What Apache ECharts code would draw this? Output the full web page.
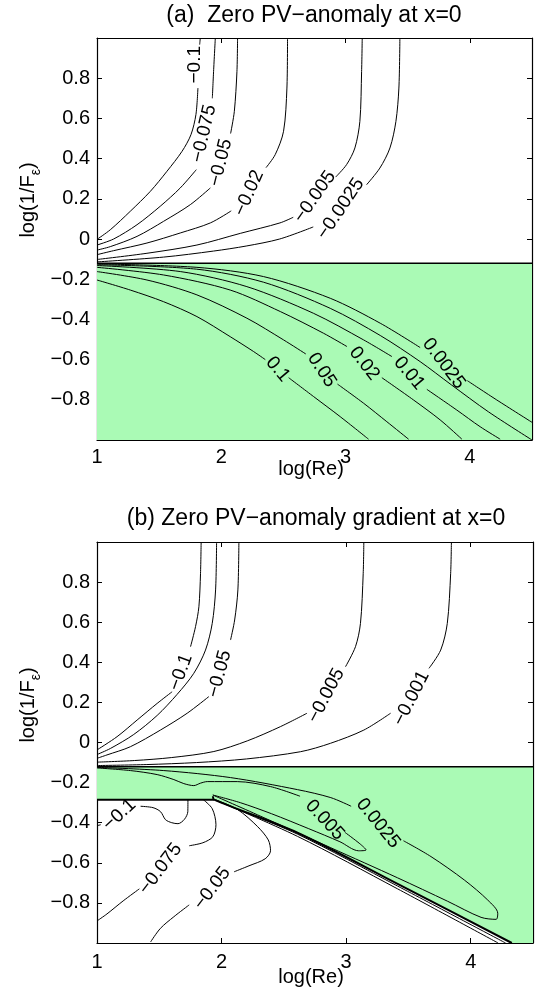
<!DOCTYPE html>
<html>
<head>
<meta charset="utf-8">
<title>Zero PV-anomaly</title>
<script src="https://cdn.jsdelivr.net/npm/echarts@6/dist/echarts.min.js"></script>
<style>
  html, body { margin: 0; padding: 0; background: #fff; }
  #chart { width: 544px; height: 991px; }
</style>
</head>
<body>
<div id="chart"></div>
<script>
// axes: log(Re) on x, log(1/F_eps) on y
var xRange = [1, 4.5];
var yRange = [-1, 1];
var xStep = 1;
var yStep = 0.2;
var GREEN = '#aafab5';

// ---------- panel (a): zero PV-anomaly ----------
// green region (positive values)
var a_green = [[1, -0.121], [4.5, -0.121], [4.5, -1], [1, -1]];
var a_zero = [[1, -0.121], [4.5, -0.121]];

// negative contours (null = gap for the inline label)
var a_m0100 = [[1.831, 1.0], [1.826, 0.967], null, [1.812, 0.751], [1.796, 0.619], [1.756, 0.519], [1.684, 0.436], [1.563, 0.337], [1.429, 0.237], [1.268, 0.138], [1.107, 0.046], [1.0, -0.002]];
var a_m0075 = [[1.952, 1.0], [1.938, 0.834], [1.928, 0.700], null, [1.799, 0.345], [1.670, 0.254], [1.509, 0.163], [1.322, 0.071], [1.134, 0.0], [1.0, -0.030]];
var a_m0050 = [[2.131, 1.0], [2.126, 0.834], [2.105, 0.635], [2.075, 0.525], null, [1.912, 0.254], [1.751, 0.171], [1.536, 0.088], [1.322, 0.013], [1.107, -0.038], [1.0, -0.055]];
var a_m0020 = [[2.533, 1.0], [2.528, 0.751], [2.501, 0.536], [2.434, 0.420], [2.36, 0.355], null, [2.08, 0.140], [1.912, 0.080], [1.670, 0.030], [1.402, -0.020], [1.134, -0.058], [1.0, -0.078]];
var a_m0005 = [[3.134, 1.0], [3.129, 0.834], [3.115, 0.585], [3.075, 0.453], [3.008, 0.370], [2.920, 0.308], null, [2.579, 0.108], [2.472, 0.080], [2.153, 0.028], [1.804, -0.030], [1.402, -0.071], [1.0, -0.102]];
var a_m0025 = [[3.437, 1.0], [3.429, 0.751], [3.405, 0.585], [3.357, 0.453], [3.276, 0.353], [3.169, 0.270], null, [2.740, 0.060], [2.470, 0.0], [2.200, -0.035], [1.938, -0.060], [1.536, -0.090], [1.0, -0.114]];

// positive contours
var a_p0100 = [[1.0, -0.204], [1.268, -0.254], [1.536, -0.312], [1.804, -0.386], [2.072, -0.486], [2.260, -0.560], [2.354, -0.600], null, [2.542, -0.690], [2.743, -0.784], [2.957, -0.884], [3.185, -0.996]];
var a_p0050 = [[1.0, -0.162], [1.402, -0.204], [1.804, -0.278], [2.206, -0.394], [2.501, -0.502], [2.680, -0.572], null, [2.935, -0.722], [3.145, -0.817], [3.332, -0.909], [3.507, -0.996]];
var a_p0020 = [[1.0, -0.141], [1.536, -0.179], [2.072, -0.254], [2.475, -0.361], [2.823, -0.469], [3.011, -0.535], null, [3.292, -0.690], [3.547, -0.801], [3.761, -0.900], [3.936, -0.996]];
var a_p0010 = [[1.0, -0.132], [1.670, -0.162], [2.206, -0.237], [2.743, -0.370], [3.145, -0.502], [3.373, -0.585], null, [3.654, -0.748], [3.895, -0.851], [4.083, -0.934], [4.244, -0.996]];
var a_p0005 = [[1.0, -0.128], [1.8, -0.150], [2.34, -0.215], [2.877, -0.345], [3.279, -0.480], [3.6, -0.610], [3.85, -0.725], [4.15, -0.860], [4.5, -1.0]];
var a_p0025 = [[1.0, -0.124], [1.804, -0.141], [2.340, -0.187], [2.877, -0.295], [3.279, -0.419], [3.600, -0.540], null, [3.980, -0.705], [4.217, -0.801], [4.5, -0.912]];

var a_lines = [a_m0100, a_m0075, a_m0050, a_m0020, a_m0005, a_m0025,
               a_p0100, a_p0050, a_p0020, a_p0010, a_p0005, a_p0025];

var a_labels = [
  [1.790, 0.867, '\u22120.1'], [1.860, 0.524, '\u22120.075'], [1.995, 0.380, '\u22120.05'],
  [2.222, 0.228, '\u22120.02'], [2.753, 0.210, '\u22120.005'], [2.960, 0.150, '\u22120.0025'],
  [2.455, -0.648, '0.1'], [2.808, -0.652, '0.05'], [3.150, -0.620, '0.02'],
  [3.512, -0.668, '0.01'], [3.790, -0.620, '0.0025']
];
var a_angles = [90, 77, 76, 66, 55, 56, -50, -57, -52, -50, -53];

// ---------- panel (b): zero PV-anomaly gradient ----------
var b_green = [[1, -0.121], [4.5, -0.121], [4.5, -1], [4.33, -1], [3.413, -0.705], [2.609, -0.450], [1.94, -0.285], [1, -0.285]];
var b_zero = [[1, -0.121], [4.5, -0.121]];
var b_floor = [[1, -0.285], [1.94, -0.285]];
var b_diag0 = [[1.93, -0.268], [1.94, -0.285], [2.609, -0.450], [3.413, -0.705], [4.33, -1.0]];
var b_diag1 = [[1.95, -0.288], [2.609, -0.457], [3.413, -0.716], [4.28, -1.0]];
var b_diag2 = [[1.97, -0.292], [2.609, -0.468], [3.413, -0.730], [4.22, -1.0]];

var b_m0100 = [[1.836, 1.0], [1.831, 0.844], [1.818, 0.677], [1.791, 0.578], [1.751, 0.478], null, [1.603, 0.253], [1.483, 0.195], [1.322, 0.112], [1.161, 0.029], [1.0, -0.037]];
var b_m0075 = [[1.960, 1.0], [1.952, 0.761], [1.925, 0.594], [1.871, 0.461], [1.777, 0.345], [1.643, 0.240], [1.483, 0.135], [1.295, 0.040], [1.107, -0.030], [1.0, -0.060]];
var b_m0050 = [[2.139, 1.0], [2.131, 0.761], [2.105, 0.611], [2.072, 0.511], null, [1.898, 0.229], [1.724, 0.146], [1.509, 0.062], [1.268, -0.021], [1.080, -0.062], [1.0, -0.079]];
var b_m0005 = [[3.142, 1.0], [3.137, 0.844], [3.115, 0.594], [3.075, 0.478], [2.995, 0.378], null, [2.686, 0.146], [2.472, 0.079], [2.206, 0.008], [1.938, -0.045], [1.6, -0.075], [1.3, -0.090], [1.0, -0.098]];
var b_m0001 = [[3.845, 1.0], [3.839, 0.844], [3.812, 0.594], [3.759, 0.461], [3.665, 0.370], null, [3.357, 0.146], [3.142, 0.062], [2.874, -0.004], [2.633, -0.046], [2.2, -0.082], [1.8, -0.100], [1.4, -0.110], [1.0, -0.115]];

var b_p0005 = [[1.0, -0.127], [1.268, -0.140], [1.483, -0.160], [1.617, -0.185], [1.697, -0.205], [1.777, -0.215], [1.83, -0.203], [1.885, -0.195], [2.126, -0.195], [2.394, -0.220], [2.630, -0.268], null, [2.990, -0.448], [3.11, -0.505], [3.16, -0.536], [3.10, -0.540], [2.95, -0.495], [2.7, -0.430], [2.4, -0.355], [2.15, -0.300], [1.93, -0.262]];
var b_p0025 = [[1.0, -0.124], [1.536, -0.140], [2.072, -0.175], [2.609, -0.235], [2.877, -0.275], [3.04, -0.318], null, [3.460, -0.490], [3.681, -0.569], [3.949, -0.686], [4.137, -0.786], [4.217, -0.852], [4.204, -0.882], [4.083, -0.872], [3.815, -0.792], [3.413, -0.675], [2.877, -0.525], [2.340, -0.375], [1.93, -0.262]];

var b_m0100_lo = [[1.73, -0.285], [1.729, -0.345], [1.702, -0.383], [1.65, -0.405], [1.60, -0.400], [1.55, -0.385], [1.51, -0.345], [1.45, -0.325], [1.35, -0.318], null, [1.03, -0.410], [1.0, -0.415]];
var b_m0075_lo = [[1.853, -0.285], [1.925, -0.330], [1.955, -0.410], [1.93, -0.470], [1.85, -0.500], [1.74, -0.515], null, [1.34, -0.730], [1.21, -0.790], [1.08, -0.855], [1.0, -0.890]];
var b_m0050_lo = [[1.95, -0.285], [2.13, -0.335], [2.29, -0.420], [2.375, -0.486], [2.393, -0.540], [2.35, -0.580], [2.22, -0.615], [2.10, -0.645], null, [1.74, -0.810], [1.617, -0.869], [1.509, -0.927], [1.43, -0.995]];

var b_lines = [b_m0100, b_m0075, b_m0050, b_m0005, b_m0001, b_p0005, b_p0025,
               b_m0100_lo, b_m0075_lo, b_m0050_lo, b_diag1, b_diag2];

var b_labels = [
  [1.672, 0.350, '\u22120.1'], [1.984, 0.342, '\u22120.05'], [2.839, 0.234, '\u22120.005'],
  [3.523, 0.220, '\u22120.001'], [2.828, -0.387, '0.005'], [3.257, -0.403, '0.0025'],
  [1.180, -0.360, '\u22120.1'], [1.510, -0.630, '\u22120.075'], [1.925, -0.728, '\u22120.05']
];
var b_angles = [70, 75, 62, 63, -47, -51, 43, 53, 53];

var FONT = 'Liberation Sans, Arial, Helvetica, sans-serif';

function lineSeries(data, gi, w) {
  return {
    type: 'line', xAxisIndex: gi * 2, yAxisIndex: gi * 2, data: data,
    symbol: 'none', smooth: 0.3, connectNulls: false, silent: true, animation: false, z: 3,
    lineStyle: { color: '#000', width: w || 1 }
  };
}

function fillSeries(poly, gi) {
  return {
    type: 'custom', xAxisIndex: gi * 2, yAxisIndex: gi * 2, data: poly, silent: true, animation: false, z: 1,
    renderItem: function (params, api) {
      if (params.dataIndex !== 0) return null;
      return {
        type: 'polygon',
        shape: { points: poly.map(function (p) { return api.coord(p); }) },
        style: { fill: GREEN }
      };
    }
  };
}

function labelSeries(labels, angles, gi) {
  return {
    type: 'custom', xAxisIndex: gi * 2, yAxisIndex: gi * 2, silent: true, animation: false, z: 5,
    data: labels.map(function (l) { return [l[0], l[1]]; }),
    renderItem: function (params, api) {
      var i = params.dataIndex;
      var p = api.coord([api.value(0), api.value(1)]);
      return {
        type: 'text', x: p[0], y: p[1], rotation: angles[i] * Math.PI / 180,
        style: { text: labels[i][2], fontSize: 19, fontFamily: FONT, fill: '#000', align: 'center', verticalAlign: 'middle' }
      };
    }
  };
}

function xAxis(gi, top) {
  return {
    type: 'value', gridIndex: gi, position: top ? 'top' : 'bottom',
    min: xRange[0], max: xRange[1], interval: xStep,
    axisLine: { show: true, onZero: false, lineStyle: { color: '#000', width: 1.2 } },
    axisTick: { show: true, inside: true, length: 5, lineStyle: { color: '#000' } },
    axisLabel: {
      show: !top, margin: gi === 0 ? 7 : 9, fontSize: 20, color: '#000', fontFamily: FONT,
      formatter: function (v) { return Math.abs(v - Math.round(v)) < 1e-6 ? String(Math.round(v)) : ''; }
    },
    splitLine: { show: false }
  };
}

function yAxis(gi, right) {
  return {
    type: 'value', gridIndex: gi, position: right ? 'right' : 'left',
    min: yRange[0], max: yRange[1], interval: yStep,
    axisLine: { show: true, onZero: false, lineStyle: { color: '#000', width: 1.2 } },
    axisTick: { show: true, inside: true, length: 5, lineStyle: { color: '#000' } },
    axisLabel: {
      show: !right, margin: 7, fontSize: 20, color: '#000', fontFamily: FONT,
      formatter: function (v) {
        if (Math.abs(Math.abs(v) - 1) < 1e-6) return '';
        var s = Math.abs(v) < 1e-6 ? '0' : v.toFixed(1);
        return s.replace('-', '\u2212');
      }
    },
    splitLine: { show: false }
  };
}

function yLabel(cx, cy) {
  return {
    type: 'text', x: cx, y: cy, rotation: Math.PI / 2, silent: true,
    style: {
      text: '{m|log(1/F}{e|\u03b5}{m|)}', align: 'center', verticalAlign: 'middle',
      rich: {
        m: { fontSize: 20, fontFamily: FONT, fill: '#000', lineHeight: 30, verticalAlign: 'middle' },
        e: { fontSize: 14, fontFamily: FONT, fill: '#000', lineHeight: 30, verticalAlign: 'bottom' }
      }
    }
  };
}

function plainText(txt, cx, cy, size) {
  return {
    type: 'text', x: cx, y: cy, silent: true,
    style: { text: txt, fontSize: size, fontFamily: FONT, fill: '#000', align: 'center', verticalAlign: 'middle' }
  };
}

var series = [fillSeries(a_green, 0), fillSeries(b_green, 1)];
a_lines.forEach(function (d) { series.push(lineSeries(d, 0)); });
b_lines.forEach(function (d) { series.push(lineSeries(d, 1)); });
series.push(lineSeries(a_zero, 0, 1.6));
series.push(lineSeries(b_zero, 1, 1.6));
series.push(lineSeries(b_floor, 1, 2));
series.push(lineSeries(b_diag0, 1, 2));
series.push(labelSeries(a_labels, a_angles, 0));
series.push(labelSeries(b_labels, b_angles, 1));

var chart = echarts.init(document.getElementById('chart'));
chart.setOption({
  animation: false,
  backgroundColor: '#fff',
  grid: [
    { left: 97, top: 38, width: 435, height: 402, containLabel: false, outerBoundsMode: 'none' },
    { left: 97, top: 542, width: 436, height: 401, containLabel: false, outerBoundsMode: 'none' }
  ],
  xAxis: [xAxis(0, false), xAxis(0, true), xAxis(1, false), xAxis(1, true)],
  yAxis: [yAxis(0, false), yAxis(0, true), yAxis(1, false), yAxis(1, true)],
  graphic: [
    plainText('(a)  Zero PV\u2212anomaly at x=0', 314, 16, 23),
    plainText('(b) Zero PV\u2212anomaly gradient at x=0', 316, 519, 23),
    plainText('log(Re)', 311, 469, 20),
    plainText('log(Re)', 311, 977, 20),
    yLabel(28, 200),
    yLabel(28, 705)
  ],
  series: series
});
</script>
</body>
</html>
